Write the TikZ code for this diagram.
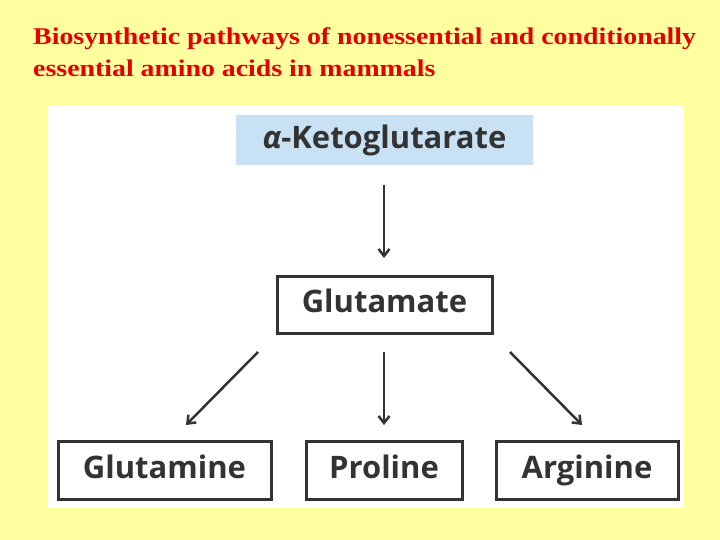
\documentclass[tikz,border=0pt]{standalone}
\usepackage{fontspec}
\setmainfont{Liberation Serif}
\newfontfamily\boxfont{Open Sans}
\usetikzlibrary{arrows.meta}
\begin{document}
\begin{tikzpicture}[x=1pt,y=-1pt,
  bx/.style={draw=black!80,line width=3pt,fill=white,inner sep=0pt,font=\boxfont\bfseries\fontsize{31}{34}\selectfont,text=black!80,text height=22pt,text depth=6pt},
  ar/.style={draw=black!80,line width=2.5pt,-{Straight Barb[length=7pt,width=11pt]}}]
\path[fill={rgb,255:red,255;green,255;blue,160}] (0,0) rectangle (720,540);
\useasboundingbox (0,0) rectangle (720,540);
\node[anchor=north west,align=left,text=red!90!black,font=\bfseries\fontsize{24}{32}\selectfont,inner sep=0pt,xscale=1.16] (title) at (33,27) {Biosynthetic pathways of nonessential and conditionally\\essential amino acids in mammals};
\path[fill=white] (48,105) rectangle (684,508);
\node[fill={rgb,255:red,200;green,225;blue,245},minimum width=297pt,minimum height=50pt,font=\boxfont\bfseries\fontsize{31}{34}\selectfont,text=black!80,inner sep=0pt] (akg) at (384.5,140) {{\itshape α}-Ketoglutarate};
\node[bx,minimum width=215pt,minimum height=57pt] (glu) at (384.5,304.5) {Glutamate};
\node[bx,minimum width=213pt,minimum height=58pt] (gln) at (164.5,470) {Glutamine};
\node[bx,minimum width=156pt,minimum height=58pt] (pro) at (384,470) {Proline};
\node[bx,minimum width=182pt,minimum height=58pt] (arg) at (587,470) {Arginine};
\coordinate (a1) at (384,185); \coordinate (a2) at (384,258);
\draw[ar] (a1) -- (a2);
\coordinate (l1) at (258,352); \coordinate (l2) at (186,425);
\coordinate (m1) at (384,352); \coordinate (m2) at (384,425);
\coordinate (r1) at (510,352); \coordinate (r2) at (582,425);
\draw[ar] (l1) -- (l2);
\draw[ar] (m1) -- (m2);
\draw[ar] (r1) -- (r2);
\end{tikzpicture}
\end{document}
